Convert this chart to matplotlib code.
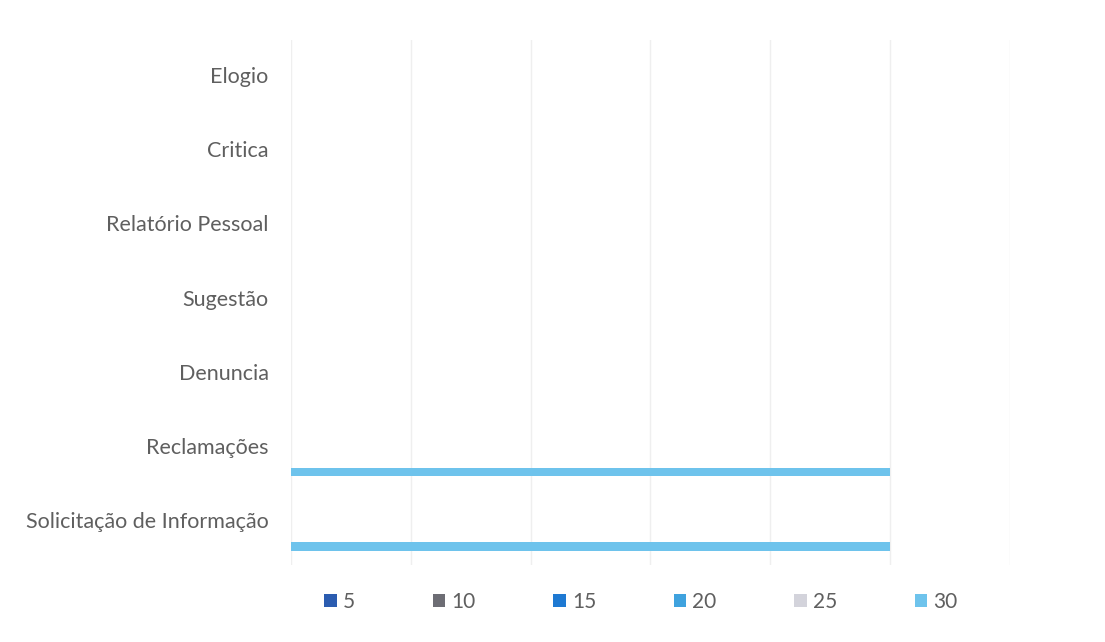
import numpy as np
import matplotlib
matplotlib.use("Agg")
import matplotlib.pyplot as plt
from matplotlib.patches import Patch

# categorias (de baixo para cima)
categorias = ["Solicitação de Informação", "Reclamações", "Denuncia", "Sugestão",
              "Relatório Pessoal", "Critica", "Elogio"]
series = ["5", "10", "15", "20", "25", "30"]
cores = ["#2B5CB0", "#6D6D74", "#1E79D2", "#3FA2DE", "#D3D3DB", "#6EC3EC"]

# valores por série (ordem das categorias acima)
valores = {
    "5":  [0, 0, 0, 0, 0, 0, 0],
    "10": [0, 0, 0, 0, 0, 0, 0],
    "15": [0, 0, 0, 0, 0, 0, 0],
    "20": [0, 0, 0, 0, 0, 0, 0],
    "25": [0, 0, 0, 0, 0, 0, 0],
    "30": [5, 5, 0, 0, 0, 0, 0],
}

plt.rcParams['font.family'] = ['Lato', 'DejaVu Sans']

fig = plt.figure(figsize=(11.05, 6.42), dpi=100)
ax = fig.add_axes([0.2633, 0.1199, 0.914 - 0.2633, 0.9377 - 0.1199])

y = np.arange(len(categorias))
passo = 0.14
for i, s in enumerate(series):
    ax.barh(y + (2.5 - i) * passo, valores[s], height=0.115, color=cores[i], zorder=3)

ax.set_xlim(0, 6)
ax.set_ylim(-0.6, 6.47)
ax.set_xticks(np.arange(0, 7, 1))
ax.set_xticklabels([])
ax.tick_params(axis='x', length=0)
ax.tick_params(axis='y', length=0, pad=16, labelsize=15.5, labelcolor="#5f5f5f")
ax.set_yticks(y)
ax.set_yticklabels(categorias)
ax.grid(axis='x', color="#efefef", linewidth=1, zorder=0)
for sp in ax.spines.values():
    sp.set_visible(False)

handles = [Patch(facecolor=c, edgecolor='none') for c in cores]
fig.legend(handles, series, loc='center', bbox_to_anchor=(0.580, 0.062), ncol=6,
           frameon=False, fontsize=15, labelcolor="#5f5f5f", handlelength=0.6,
           handleheight=0.6, handletextpad=0.3, columnspacing=3.72)

fig.savefig("out.png", dpi=100, facecolor="white")
